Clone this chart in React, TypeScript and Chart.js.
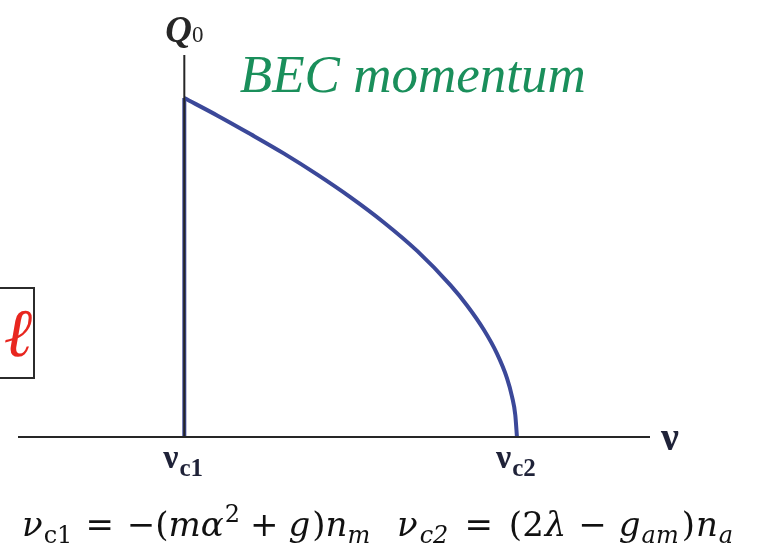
import React, { useEffect, useRef } from "react";
import { Chart, registerables } from "chart.js";

Chart.register(...registerables);

// Chemical potential ν (scaled so that ν_c1 = 0, ν_c2 = 1) and condensate momentum Q0 (scaled to 1 at ν_c1)
const curveNu = [0, 0.1, 0.2, 0.3, 0.4, 0.5, 0.6, 0.7, 0.8, 0.85, 0.9, 0.94, 0.97, 0.985, 0.995, 1.0];
const curveQ = [1.0, 0.948, 0.893, 0.836, 0.774, 0.707, 0.633, 0.549, 0.448, 0.388, 0.317, 0.246, 0.174, 0.12, 0.065, 0];
const jumpNu = [0, 0];
const jumpQ = [0, 1.0];
const tickNu = [0, 1];
const tickSubs = ["c1", "c2"];

const NU_MIN = -0.5;
const NU_MAX = 1.4;
const Q_MAX = 1.127;

const SERIF = '"Liberation Serif", "Times New Roman", serif';
const MATH = '"DejaVu Serif", serif';
const BLUE = "#3b4899";
const INK = "#262626";

type Piece = { t: string; st?: string; s: number; dy?: number; gap?: number; f?: string };

function drawPieces(ctx: CanvasRenderingContext2D, x: number, y: number, pieces: Piece[], color: string, family = SERIF) {
  ctx.save();
  ctx.fillStyle = color;
  ctx.textBaseline = "alphabetic";
  ctx.textAlign = "left";
  let cx = x;
  for (const p of pieces) {
    cx += p.gap || 0;
    ctx.font = `${p.st || "normal"} ${p.s}px ${p.f || family}`;
    ctx.fillText(p.t, cx, y + (p.dy || 0));
    cx += ctx.measureText(p.t).width;
  }
  ctx.restore();
  return cx;
}

const decorations = {
  id: "decorations",
  afterDatasetsDraw(chart: any) {
    const ctx: CanvasRenderingContext2D = chart.ctx;
    const xs = chart.scales.x;
    const ys = chart.scales.y;
    const x0 = xs.getPixelForValue(0);
    const yb = ys.getPixelForValue(0);

    // axes
    ctx.save();
    ctx.strokeStyle = INK;
    ctx.lineWidth = 2;
    ctx.beginPath();
    ctx.moveTo(xs.left, yb);
    ctx.lineTo(xs.right, yb);
    ctx.moveTo(x0, yb);
    ctx.lineTo(x0, ys.top);
    ctx.stroke();
    ctx.restore();

    // axis titles
    drawPieces(ctx, x0 - 19, ys.top - 13, [
      { t: "Q", st: "italic bold", s: 37 },
      { t: "0", st: "normal", s: 23, gap: 0 },
    ], INK);
    drawPieces(ctx, xs.right + 11, yb + 13, [{ t: "ν", st: "bold", s: 40 }], "#1f2238");

    // tick labels ν_c1, ν_c2
    tickNu.forEach((v, i) => {
      const px = xs.getPixelForValue(v);
      drawPieces(ctx, px - 21, yb + 31, [
        { t: "ν", st: "bold", s: 34 },
        { t: tickSubs[i], st: "bold", s: 25, dy: 8, gap: 1 },
      ], "#1f2238");
    });

    // series caption
    ctx.save();
    ctx.fillStyle = "#1a8f5b";
    ctx.font = `italic 53px ${SERIF}`;
    ctx.textBaseline = "alphabetic";
    ctx.fillText("BEC momentum", xs.getPixelForValue(0.167), ys.getPixelForValue(1.018));
    ctx.restore();

    // boxed ℓ at the left edge
    ctx.save();
    ctx.strokeStyle = "#2b2b2b";
    ctx.lineWidth = 2;
    ctx.strokeRect(-2, 288, 36, 90);
    ctx.fillStyle = "#e8261f";
    ctx.font = `italic 68px ${SERIF}`;
    ctx.textAlign = "center";
    ctx.fillText("ℓ", 18, 356);
    ctx.restore();

    // critical values
    const fs = 34;
    const sub = 24;
    drawPieces(ctx, 22, 536, [
      { t: "ν", st: "italic", s: fs },
      { t: "c1", s: sub, dy: 7, gap: 1 },
      { t: "=", s: fs, gap: 13 },
      { t: "−(", s: fs, gap: 13 },
      { t: "m", st: "italic", s: fs },
      { t: "α", st: "italic", s: fs },
      { t: "2", s: sub, dy: -14, gap: 1 },
      { t: "+", s: fs, gap: 10 },
      { t: "g", st: "italic", s: fs, gap: 10 },
      { t: ")", s: fs, gap: 2 },
      { t: "n", st: "italic", s: fs },
      { t: "m", st: "italic", s: sub, dy: 7 },
    ], "#111", MATH);
    drawPieces(ctx, 397, 536, [
      { t: "ν", st: "italic", s: fs },
      { t: "c2", st: "italic", s: sub, dy: 7, gap: 2 },
      { t: "=", s: fs, gap: 16 },
      { t: "(2", s: fs, gap: 16 },
      { t: "λ", st: "italic", s: fs, gap: 1 },
      { t: "−", s: fs, gap: 12 },
      { t: "g", st: "italic", s: fs, gap: 12 },
      { t: "am", st: "italic", s: sub, dy: 7, gap: 1 },
      { t: ")", s: fs, gap: 3 },
      { t: "n", st: "italic", s: fs, gap: 1 },
      { t: "a", st: "italic", s: sub, dy: 7, gap: 1 },
    ], "#111", MATH);
  },
};

export default function App() {
  const ref = useRef<HTMLCanvasElement | null>(null);

  useEffect(() => {
    if (!ref.current) return;
    const chart = new Chart(ref.current, {
      type: "line",
      data: {
        datasets: [
          {
            data: jumpNu.map((x, i) => ({ x, y: jumpQ[i] })),
            borderColor: BLUE,
            borderWidth: 4,
            pointRadius: 0,
            tension: 0,
            borderCapStyle: "butt",
          },
          {
            data: curveNu.map((x, i) => ({ x, y: curveQ[i] })),
            borderColor: BLUE,
            borderWidth: 4,
            pointRadius: 0,
            cubicInterpolationMode: "monotone",
            borderCapStyle: "butt",
          },
        ],
      },
      options: {
        responsive: true,
        maintainAspectRatio: false,
        animation: false,
        layout: { padding: { left: 18, right: 110, top: 55, bottom: 107 } },
        plugins: { legend: { display: false }, tooltip: { enabled: false } },
        scales: {
          x: { type: "linear", min: NU_MIN, max: NU_MAX, display: false },
          y: { type: "linear", min: 0, max: Q_MAX, display: false },
        },
      },
      plugins: [decorations],
    });
    return () => chart.destroy();
  }, []);

  return (
    <div style={{ position: "fixed", left: 0, top: 0, width: 760, height: 544, background: "#fff" }}>
      <canvas ref={ref} />
    </div>
  );
}
